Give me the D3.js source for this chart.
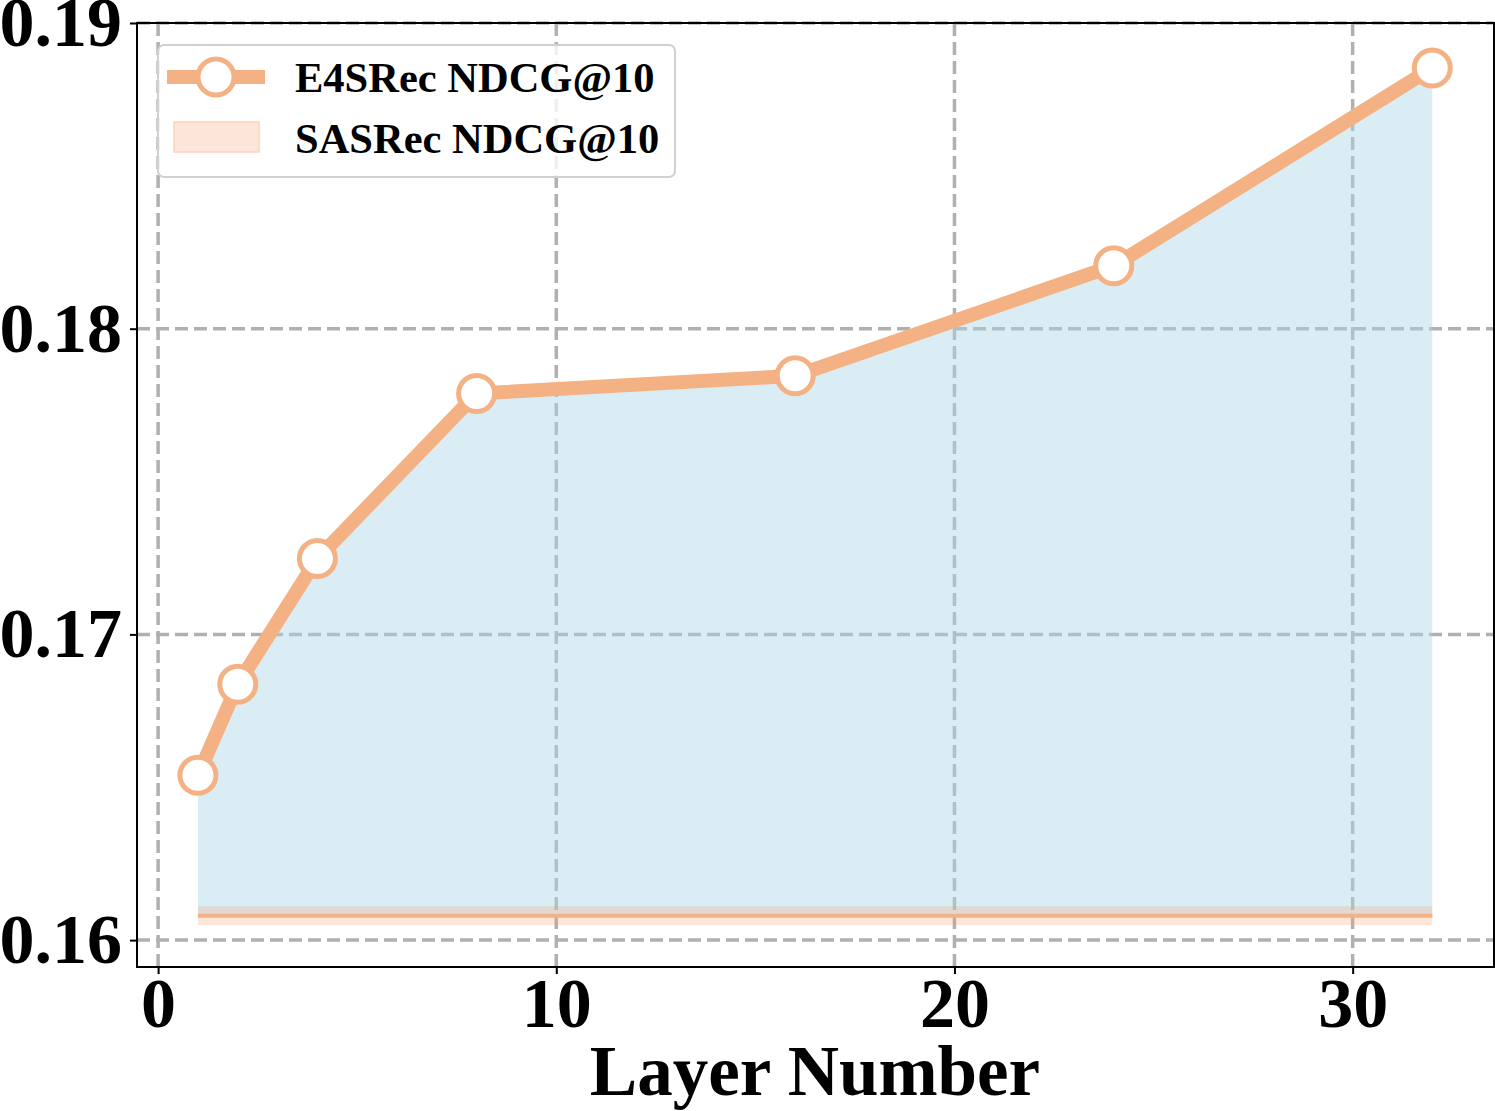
<!DOCTYPE html>
<html><head><meta charset="utf-8">
<script src="https://cdn.jsdelivr.net/npm/d3@7"></script>
<style>body{margin:0;background:#fff}svg text{font-family:"Liberation Serif","Times New Roman",serif;font-weight:bold}</style>
</head><body><svg id="c" width="1495" height="1111"></svg>
<script>
const layers = [1, 2, 4, 8, 16, 24, 32];
const e4srec = [0.16539, 0.16837, 0.17248, 0.17788, 0.17846, 0.18206, 0.18853];
const sasrec = 0.16080;
const sasrecStd = 0.00031;
const xTicks = [0, 10, 20, 30];
const yTicks = [0.16, 0.17, 0.18, 0.19];
const seriesNames = ["E4SRec NDCG@10", "SASRec NDCG@10"];

const svg = d3.select("#c");
const L = 137, R = 1494, T = 23, B = 967;
const x = d3.scaleLinear().domain([-0.53, 33.55]).range([L, R]);
const y = d3.scaleLinear().domain([0.15912, 0.19]).range([B, T]);
const orange = "#f4b183";

// grid
const g = svg.append("g");
g.selectAll(".gx").data(xTicks).join("line")
  .attr("x1", d => x(d)).attr("x2", d => x(d)).attr("y1", T).attr("y2", B)
  .attr("stroke", "#b0b0b0").attr("stroke-width", 3.5).attr("stroke-dasharray", "13,6");
g.selectAll(".gy").data(yTicks).join("line")
  .attr("x1", L).attr("x2", R).attr("y1", d => y(d)).attr("y2", d => y(d))
  .attr("stroke", "#b0b0b0").attr("stroke-width", 3.5).attr("stroke-dasharray", "13,6");

// blue area between E4SRec and SASRec
const area = d3.area().x((d, i) => x(layers[i])).y0(() => y(sasrec)).y1(d => y(d));
svg.append("path").datum(e4srec).attr("d", area).attr("fill", "#add8e6").attr("fill-opacity", 0.45);

// SASRec band
const band = d3.area().x(d => x(d)).y0(y(sasrec - sasrecStd)).y1(y(sasrec + sasrecStd));
svg.append("path").datum([layers[0], layers[layers.length - 1]]).attr("d", band)
  .attr("fill", "#f8a070").attr("fill-opacity", 0.25);
svg.append("line").attr("x1", x(layers[0])).attr("x2", x(layers[layers.length - 1]))
  .attr("y1", y(sasrec)).attr("y2", y(sasrec)).attr("stroke", orange).attr("stroke-width", 4);

// E4SRec line
const line = d3.line().x((d, i) => x(layers[i])).y(d => y(d));
svg.append("path").datum(e4srec).attr("d", line).attr("fill", "none")
  .attr("stroke", orange).attr("stroke-width", 14).attr("stroke-linejoin", "round");
svg.selectAll(".pt").data(e4srec).join("circle")
  .attr("cx", (d, i) => x(layers[i])).attr("cy", d => y(d)).attr("r", 18)
  .attr("fill", "#fff").attr("stroke", orange).attr("stroke-width", 5);

// frame
svg.append("rect").attr("x", L).attr("y", T).attr("width", R - L).attr("height", B - T)
  .attr("fill", "none").attr("stroke", "#000").attr("stroke-width", 2);

// axes
const xAxis = svg.append("g").attr("transform", `translate(0,${B})`)
  .call(d3.axisBottom(x).tickValues(xTicks).tickFormat(d3.format("d")).tickSize(7).tickPadding(6));
const yAxis = svg.append("g").attr("transform", `translate(${L},0)`)
  .call(d3.axisLeft(y).tickValues(yTicks).tickFormat(d3.format(".2f")).tickSize(7).tickPadding(8));
[xAxis, yAxis].forEach(a => {
  a.select(".domain").remove();
  a.selectAll("line").attr("stroke", "#000").attr("stroke-width", 2);
  a.selectAll("text").attr("font-size", 70).attr("fill", "#000")
    .style("font-family", '"Liberation Serif",serif').style("font-weight", "bold");
});
xAxis.selectAll("text").attr("dy", "0.67em");

svg.append("text").attr("x", 815).attr("y", 1095).attr("text-anchor", "middle")
  .attr("font-size", 71).text("Layer Number");

// legend
const lg = svg.append("g");
lg.append("rect").attr("x", 158).attr("y", 45).attr("width", 517).attr("height", 132).attr("rx", 6)
  .attr("fill", "#fff").attr("fill-opacity", 0.8).attr("stroke", "#d0d0d0").attr("stroke-width", 2);
lg.append("line").attr("x1", 167).attr("x2", 265).attr("y1", 77).attr("y2", 77)
  .attr("stroke", orange).attr("stroke-width", 14);
lg.append("circle").attr("cx", 216).attr("cy", 77).attr("r", 18).attr("fill", "#fff")
  .attr("stroke", orange).attr("stroke-width", 5);
lg.append("rect").attr("x", 174).attr("y", 122).attr("width", 85).attr("height", 30)
  .attr("fill", "#fde6d9").attr("stroke", "#fbd5bd").attr("stroke-width", 1.5);
lg.selectAll(".lt").data(seriesNames).join("text")
  .attr("x", 295).attr("y", (d, i) => 92 + i * 61).attr("font-size", 42.5).attr("fill", "#000").text(d => d);
</script></body></html>
